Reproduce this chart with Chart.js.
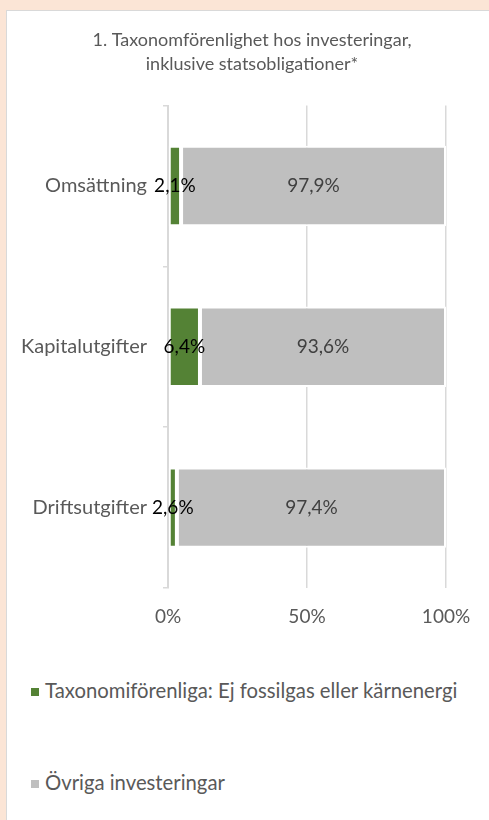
<!DOCTYPE html>
<html>
<head>
<meta charset="utf-8">
<script src="https://cdn.jsdelivr.net/npm/chart.js@4.4.1/dist/chart.umd.min.js"></script>
<style>
  html, body { margin: 0; padding: 0; width: 489px; height: 820px; overflow: hidden; background: #fbe5d6; }
  #panel {
    position: absolute; left: 6px; top: 10px; width: 483px; height: 810px;
    background: #fff; border-top: 1px solid #d9d9d9; border-left: 1px solid #d9d9d9;
    box-sizing: border-box;
  }
  #taxChart { position: absolute; left: 0; top: 0; }
  #legend { position: absolute; left: 0; top: 0; font-family: Lato, sans-serif; font-size: 20.3px; color: #595959; }
  .lg-item { position: absolute; left: 24px; white-space: nowrap; line-height: 20px; }
  .lg-box { display: inline-block; width: 8px; height: 8px; margin-right: 6px; vertical-align: 2px; }
</style>
</head>
<body>
<div id="panel">
  <canvas id="taxChart" width="482" height="640"></canvas>
  <div id="legend"></div>
</div>
<script>
// --- Data ---
const titleLines = ['1. Taxonomförenlighet hos investeringar,', 'inklusive statsobligationer*'];
const categories = ['Omsättning', 'Kapitalutgifter', 'Driftsutgifter'];
const seriesNames = ['Taxonomiförenliga: Ej fossilgas eller kärnenergi', 'Övriga investeringar'];
// bar lengths as drawn in the picture (percent of the axis)
const alignedValues = [4.7, 11.5, 3.2];
const otherValues = [95.3, 88.5, 96.8];
// the printed data labels
const alignedLabels = ['2,1%', '6,4%', '2,6%'];
const otherLabels = ['97,9%', '93,6%', '97,4%'];
const xTicks = [0, 50, 100];

const FONT = 'Lato, sans-serif';
const GREEN = '#548235';
const GREY = '#bfbfbf';
const TEXT = '#595959';

// draws the value labels in the middle of each bar
const barLabels = {
  id: 'barLabels',
  afterDatasetsDraw(chart) {
    const ctx = chart.ctx;
    ctx.save();
    ctx.font = '19px ' + FONT;
    ctx.textAlign = 'center';
    ctx.textBaseline = 'middle';
    chart.data.datasets.forEach((ds, i) => {
      ctx.fillStyle = ds.labelColor;
      chart.getDatasetMeta(i).data.forEach((bar, j) => {
        const p = bar.getProps(['x', 'y', 'base'], true);
        ctx.fillText(ds.valueLabels[j], (p.x + p.base) / 2, p.y);
      });
    });
    ctx.restore();
  }
};

// centre the title over the whole panel, not just left of the right padding
const titleCenter = {
  id: 'titleCenter',
  afterLayout(chart) {
    if (chart.titleBlock) chart.titleBlock.left = 51;
  }
};

const ctx = document.getElementById('taxChart').getContext('2d');
const chart = new Chart(ctx, {
  type: 'bar',
  data: {
    labels: categories,
    datasets: [
      {
        label: seriesNames[0],
        data: alignedValues,
        valueLabels: alignedLabels,
        labelColor: '#000000',
        backgroundColor: GREEN,
        borderColor: '#ffffff',
        borderWidth: 2,
        borderSkipped: false
      },
      {
        label: seriesNames[1],
        data: otherValues,
        valueLabels: otherLabels,
        labelColor: '#404040',
        backgroundColor: GREY,
        borderColor: '#ffffff',
        borderWidth: 2,
        borderSkipped: false
      }
    ]
  },
  options: {
    indexAxis: 'y',
    responsive: false,
    animation: false,
    categoryPercentage: 1,
    barPercentage: 0.5,
    layout: { padding: { left: 0, right: 43, top: 0, bottom: 0 } },
    scales: {
      x: {
        stacked: true,
        min: 0,
        max: 100,
        afterBuildTicks: (scale) => { scale.ticks = xTicks.map(v => ({ value: v })); },
        afterFit: (scale) => { scale.height = 63; },
        ticks: {
          callback: (v) => v + '%',
          color: TEXT,
          font: { family: FONT, size: 19 },
          padding: 17,
          maxRotation: 0
        },
        grid: { color: '#d9d9d9', lineWidth: 1.5, drawTicks: false },
        border: { display: false }
      },
      y: {
        stacked: true,
        afterFit: (scale) => { scale.width = 161; },
        ticks: {
          color: TEXT,
          font: { family: FONT, size: 20 },
          padding: 16
        },
        grid: { drawOnChartArea: false, drawTicks: true, tickLength: 5, color: '#d9d9d9', lineWidth: 1.5 },
        border: { display: true, color: '#d9d9d9', width: 2 }
      }
    },
    plugins: {
      legend: { display: false },
      tooltip: { enabled: false },
      title: {
        display: true,
        text: titleLines,
        color: TEXT,
        font: { family: FONT, size: 18, weight: 'normal', lineHeight: 1.35 },
        padding: { top: 17, bottom: 29 }
      }
    }
  },
  plugins: [barLabels, titleCenter]
});

// --- Legend (built from the datasets) ---
const legendEl = document.getElementById('legend');
const legendTops = [669, 761];
chart.data.datasets.forEach((ds, i) => {
  const item = document.createElement('div');
  item.className = 'lg-item';
  item.style.top = legendTops[i] + 'px';
  const box = document.createElement('span');
  box.className = 'lg-box';
  box.style.background = ds.backgroundColor;
  item.appendChild(box);
  item.appendChild(document.createTextNode(ds.label));
  legendEl.appendChild(item);
});
</script>
</body>
</html>
